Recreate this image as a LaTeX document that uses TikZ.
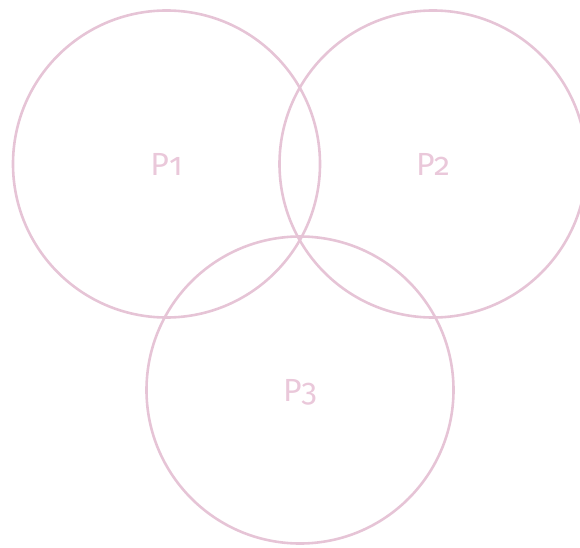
\documentclass[tikz,border=0pt]{standalone}
\usepackage{fontspec}
\setmainfont{Fira Sans}[Numbers=OldStyle]
\definecolor{ring}{HTML}{E6C4D6}
\definecolor{lab}{HTML}{EAC8DA}
\begin{document}
\begin{tikzpicture}[x=1pt,y=1pt,
  ringstyle/.style={draw=ring,line width=2.6pt,circle,minimum size=307pt,inner sep=0pt},
  labstyle/.style={text=lab,font=\fontsize{32}{38}\selectfont}]
\useasboundingbox (0,0) rectangle (580,547);
\node[ringstyle] (c1) at (166.5,383) {};
\node[ringstyle] (c2) at (433,383) {};
\node[ringstyle] (c3) at (300,157) {};
\node[labstyle] (p1) at (c1.center) {P1};
\node[labstyle] (p2) at (c2.center) {P2};
\node[labstyle] (p3) at ([yshift=-2pt]c3.center) {P3};
\end{tikzpicture}
\end{document}
